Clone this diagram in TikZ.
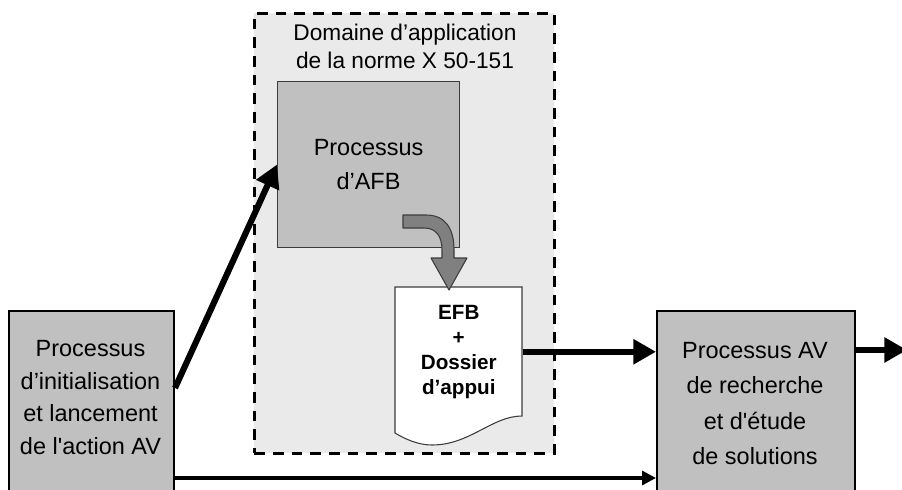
\documentclass[tikz,border=0pt]{standalone}
\usepackage{fontspec}
\newfontfamily\arial{Liberation Sans}
\usetikzlibrary{arrows.meta,calc}
\definecolor{boxgray}{RGB}{192,192,192}
\definecolor{zonegray}{RGB}{234,234,234}
\definecolor{flowgray}{RGB}{128,128,128}
\definecolor{edgegray}{RGB}{60,60,60}

\begin{document}
\begin{tikzpicture}[x=0.75pt,y=-0.75pt,
  zone/.style={draw=black, dash pattern=on 8pt off 6pt, line width=2.2pt,
    fill=zonegray, inner sep=0pt, anchor=north west},
  procbox/.style={draw=black, line width=1.5pt, fill=boxgray, inner sep=0pt, anchor=north west},
  subbox/.style={draw=edgegray, line width=0.8pt, fill=boxgray, inner sep=0pt, anchor=north west,
    align=center, font=\arial\fontsize{17.6}{25.5}\selectfont},
  txt/.style={align=center, inner sep=0pt, anchor=base},
  flow/.style={line width=4.6pt, -{Triangle[length=17pt,width=18pt]}},
  link/.style={line width=2.4pt, -{Triangle[length=10.5pt,width=10.5pt]}},
  docline/.style={draw=edgegray, line width=0.8pt, fill=white},
  blockarrow/.style={draw=edgegray, line width=0.8pt, fill=flowgray, line join=round}
]
\useasboundingbox (0,0) rectangle (902,489);
\clip (0,0) rectangle (902,489);

% scope of the standard
\node[zone, minimum width=225pt, minimum height=330pt] (domain) at (253,12) {};
% multi-line text: the base anchor sits on the last line
\node[txt, font=\arial\fontsize{17}{21}\selectfont] (domaintitle) at (405,68)
  {Domaine d’application\\de la norme X 50-151};

% functional analysis process
\node[subbox, minimum width=136.5pt, minimum height=124.5pt] (afb) at (277,81)
  {Processus\\d’AFB};

% output document (wavy bottom)
\path[docline] (395,287) -- (522,287) -- (522,416)
  .. controls (492,416) and (470,445) .. (432,445)
  .. controls (418,445) and (405,439) .. (395,433) -- cycle;
\node[inner sep=0pt, minimum width=95.25pt, minimum height=96.75pt, anchor=north west,
  align=center, font=\arial\bfseries\fontsize{15.5}{18.75}\selectfont] (efb) at (395,287)
  {EFB\\+\\Dossier\\d’appui};

% curved block arrow from the process to the document
\path[blockarrow] (403,215) -- (426,215)
  .. controls (445,215) and (454,228) .. (454,250) -- (454,258) -- (467,258)
  -- (449,290) -- (431,258) -- (442,258) -- (442,250)
  .. controls (442,236) and (436,228) .. (424,228) -- (403,228) -- cycle;

% outer processes
\node[procbox, minimum width=123.75pt, minimum height=142.5pt] (init) at (8,310) {};
\node[txt, font=\arial\fontsize{17.6}{24.4}\selectfont] (inittext) at (90.5,454.5)
  {Processus\\d’initialisation\\et lancement\\de l'action AV};

\node[procbox, minimum width=148.5pt, minimum height=142.5pt] (search) at (656,310) {};
\node[txt, font=\arial\fontsize{17.6}{26.6}\selectfont] (searchtext) at (755,464.5)
  {Processus AV\\de recherche\\et d'étude\\de solutions};

% connectors
\coordinate (out) at (907,350);
\draw[flow] ($(init.north east)+(0,78)$) -- (afb.west);
\draw[flow] (efb.east) -- (efb.east -| search.west);
\draw[flow] ($(search.north east)+(0,40)$) -- (out);
\draw[link] ($(init.north east)+(0,168)$) -- ($(search.north west)+(0,168)$);
\end{tikzpicture}
\end{document}
